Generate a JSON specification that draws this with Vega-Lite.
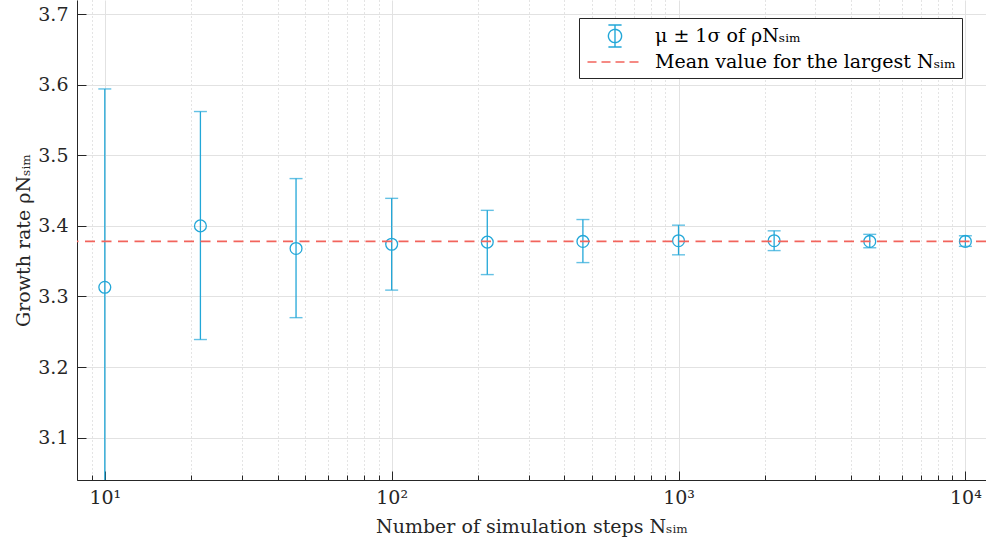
{
  "$schema": "https://vega.github.io/schema/vega-lite/v6.json",
  "width": 909,
  "height": 480,
  "autosize": "none",
  "padding": {"left": 77, "top": 0, "right": 0, "bottom": 70},
  "background": "white",
  "config": {
    "view": {"stroke": null},
    "font": "DejaVu Serif",
    "axis": {
      "labelFont": "DejaVu Serif",
      "titleFont": "DejaVu Serif",
      "labelFontSize": 19,
      "titleFontSize": 19,
      "titleFontWeight": "normal",
      "labelColor": "#262626",
      "titleColor": "#262626",
      "domainColor": "#262626",
      "domainWidth": 1,
      "tickColor": "#262626",
      "tickWidth": 1,
      "gridWidth": 1
    }
  },
  "layer": [
    {
      "data": {"name": "stats", "values": [
        {"n": 10, "mu": 3.313, "lo": 3.032, "hi": 3.594},
        {"n": 21.544, "mu": 3.400, "lo": 3.239, "hi": 3.562},
        {"n": 46.416, "mu": 3.368, "lo": 3.270, "hi": 3.467},
        {"n": 100, "mu": 3.374, "lo": 3.309, "hi": 3.439},
        {"n": 215.44, "mu": 3.377, "lo": 3.331, "hi": 3.422},
        {"n": 464.16, "mu": 3.378, "lo": 3.348, "hi": 3.409},
        {"n": 1000, "mu": 3.379, "lo": 3.359, "hi": 3.401},
        {"n": 2154.4, "mu": 3.379, "lo": 3.365, "hi": 3.393},
        {"n": 4641.6, "mu": 3.378, "lo": 3.369, "hi": 3.388},
        {"n": 10000, "mu": 3.378, "lo": 3.371, "hi": 3.386}
      ]},
      "layer": [
        {
          "mark": {"type": "rule", "strokeWidth": 1.3, "clip": true},
          "encoding": {
            "x": {
              "field": "n", "type": "quantitative",
              "scale": {"type": "log", "domain": [8, 11800], "nice": false},
              "axis": {
                "values": [8, 9, 10, 20, 30, 40, 50, 60, 70, 80, 90, 100, 200, 300, 400, 500, 600, 700, 800, 900, 1000, 2000, 3000, 4000, 5000, 6000, 7000, 8000, 9000, 10000],
                "labelExpr": "datum.value == 10 ? '10¹' : datum.value == 100 ? '10²' : datum.value == 1000 ? '10³' : datum.value == 10000 ? '10⁴' : ''",
                "labelOverlap": false,
                "labelFlush": false,
                "labelPadding": 17,
                "tickSize": {"condition": {"test": "datum.value == 10 || datum.value == 100 || datum.value == 1000 || datum.value == 10000", "value": -9}, "value": -5},
                "gridDash": {"condition": {"test": "datum.value == 10 || datum.value == 100 || datum.value == 1000 || datum.value == 10000", "value": []}, "value": [1, 3]},
                "gridColor": {"condition": {"test": "datum.value == 10 || datum.value == 100 || datum.value == 1000 || datum.value == 10000", "value": "#e2e2e2"}, "value": "#c8c8c8"},
                "title": "Number of simulation steps Nₛᵢₘ",
                "titlePadding": 6
              }
            },
            "y": {
              "field": "lo", "type": "quantitative",
              "scale": {"domain": [3.04, 3.72], "nice": false, "zero": false},
              "axis": {
                "values": [3.1, 3.2, 3.3, 3.4, 3.5, 3.6, 3.7],
                "format": ".1f",
                "tickSize": -9,
                "labelPadding": 18,
                "gridColor": "#e2e2e2",
                "title": "Growth rate ρNₛᵢₘ",
                "titlePadding": 4
              }
            },
            "y2": {"field": "hi"},
            "color": {
              "datum": "μ ± 1σ of ρNₛᵢₘ",
              "type": "nominal",
              "scale": {
                "domain": ["μ ± 1σ of ρNₛᵢₘ", "Mean value for the largest Nₛᵢₘ"],
                "range": ["#22a7d8", "#f2645c"]
              },
              "legend": {
                "orient": "none",
                "legendX": 502,
                "legendY": 18,
                "title": null,
                "strokeColor": "#262626",
                "fillColor": "white",
                "padding": 6,
                "symbolSize": 484,
                "symbolOffset": 18,
                "symbolFillColor": "transparent",
                "labelOffset": 28,
                "labelFont": "DejaVu Serif",
                "labelFontSize": 19,
                "labelColor": "#000000",
                "labelLimit": 0,
                "rowPadding": 0,
                "encode": {
                  "symbols": {
                    "update": {
                      "shape": {"signal": "indexof(datum.value, 'Mean') >= 0 ? 'M-2.5,0L2.5,0' : 'M0,-1L0,1M-0.6,-1L0.6,-1M-0.6,1L0.6,1M0.6,0A0.6,0.6,0,1,1,-0.6,0A0.6,0.6,0,1,1,0.6,0'"},
                      "stroke": {"signal": "indexof(datum.value, 'Mean') >= 0 ? '#f2645c' : '#22a7d8'"},
                      "strokeDash": {"signal": "indexof(datum.value, 'Mean') >= 0 ? [9, 5] : [1, 0]"},
                      "fill": {"value": "transparent"},
                      "fillOpacity": {"value": 0},
                      "strokeWidth": {"value": 1.4},
                      "opacity": {"value": 1}
                    }
                  }
                }
              }
            }
          }
        },
        {
          "mark": {"type": "tick", "orient": "horizontal", "size": 13, "thickness": 1.4, "clip": true},
          "encoding": {
            "x": {"field": "n", "type": "quantitative"},
            "y": {"field": "hi", "type": "quantitative"},
            "color": {"datum": "μ ± 1σ of ρNₛᵢₘ", "type": "nominal"}
          }
        },
        {
          "mark": {"type": "tick", "orient": "horizontal", "size": 13, "thickness": 1.4, "clip": true},
          "encoding": {
            "x": {"field": "n", "type": "quantitative"},
            "y": {"field": "lo", "type": "quantitative"},
            "color": {"datum": "μ ± 1σ of ρNₛᵢₘ", "type": "nominal"}
          }
        },
        {
          "mark": {"type": "point", "shape": "circle", "filled": false, "size": 140, "strokeWidth": 1.3, "opacity": 1},
          "encoding": {
            "x": {"field": "n", "type": "quantitative"},
            "y": {"field": "mu", "type": "quantitative"},
            "color": {"datum": "μ ± 1σ of ρNₛᵢₘ", "type": "nominal"}
          }
        }
      ]
    },
    {
      "data": {"name": "meanline", "values": [{"label": "largest", "mean": 3.378}]},
      "mark": {"type": "rule", "strokeWidth": 1.6, "strokeDash": [10, 6.5], "opacity": 1},
      "encoding": {
        "y": {"field": "mean", "type": "quantitative"},
        "color": {"datum": "Mean value for the largest Nₛᵢₘ", "type": "nominal"}
      }
    }
  ]
}
